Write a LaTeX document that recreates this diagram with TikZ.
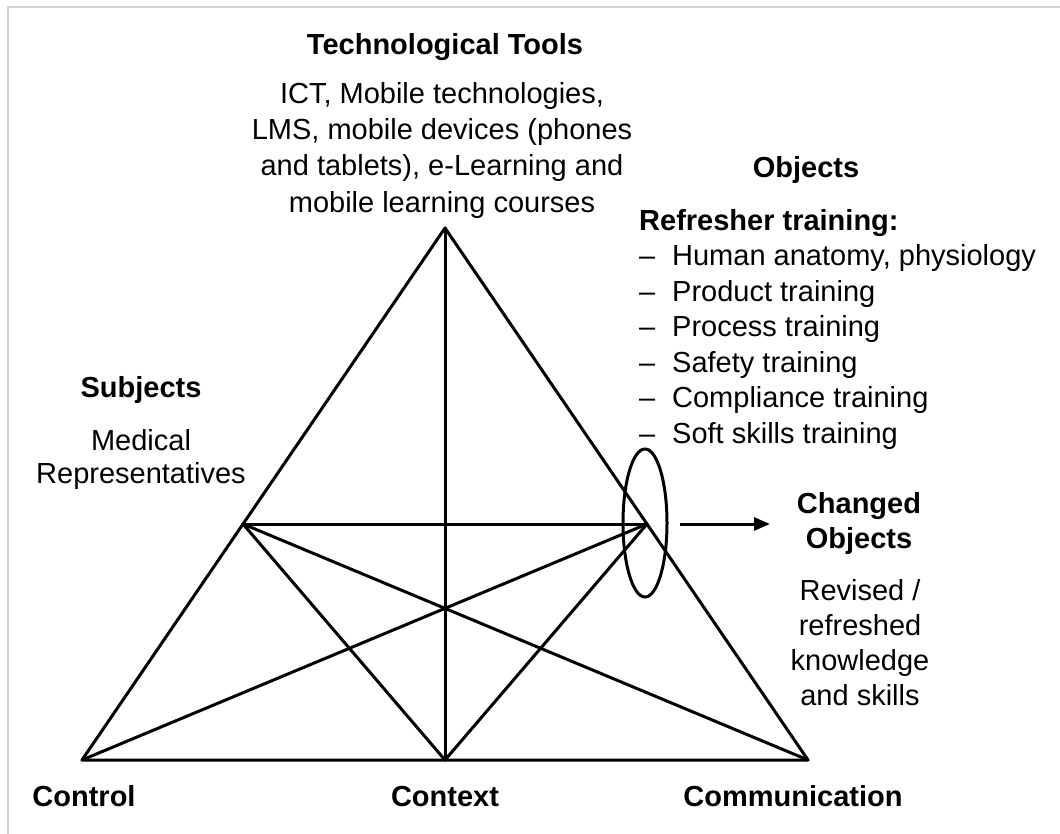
\documentclass[tikz,border=0pt]{standalone}
\usepackage{fontspec}
\setmainfont{Liberation Sans}
\usetikzlibrary{shapes.geometric,arrows.meta}
\begin{document}
\begin{tikzpicture}[x=1pt,y=-1pt,
  txt/.style={inner sep=0pt,font=\fontsize{29}{36}\selectfont},
  ttl/.style={txt,font=\fontsize{29}{35}\selectfont\bfseries},
  edge/.style={line width=3pt,line cap=round,line join=round},
  frame/.style={draw=black!18,line width=2pt}]
\useasboundingbox (0,0) rectangle (1060,834);
\fill[white] (0,0) rectangle (1060,834);
\draw[frame] (8,840) -- (8,7) -- (1066,7);
% vertices
\coordinate (A) at (445,228);
\coordinate (L) at (82,760);
\coordinate (R) at (808,760);
\coordinate (M) at (445,760);
\coordinate (P) at (243,524);
\coordinate (Q) at (647,524);
% lines
\draw[edge] (L) -- (A) -- (R) -- cycle;
\draw[edge] (A) -- (M);
\draw[edge] (P) -- (Q);
\draw[edge] (P) -- (M);
\draw[edge] (P) -- (R);
\draw[edge] (Q) -- (M);
\draw[edge] (Q) -- (L);
% ellipse and arrow
\node[draw,ellipse,line width=3pt,minimum width=44,minimum height=148,inner sep=0pt] (ell) at (645,523) {};
\coordinate (arrend) at (770,524);
\draw[line width=3pt,-{Triangle[length=16pt,width=13pt]}] ([xshift=11pt]ell.east |- Q) -- (arrend);
% texts
\node[ttl,anchor=base] (tt) at (445,55) {Technological Tools};
\node[txt,anchor=north,align=center,font=\fontsize{29}{36.3}\selectfont] (tools) at (442,82)
  {ICT, Mobile technologies,\\LMS, mobile devices (phones\\and tablets), e-Learning and\\mobile learning courses};
\node[ttl,anchor=base] (obj) at (806,178) {Objects};
\node[txt,anchor=north west,align=left,font=\fontsize{29}{35.5}\selectfont] (list) at (639,209)
  {\textbf{Refresher training:}\\
   \makebox[33pt][l]{–}Human anatomy, physiology\\
   \makebox[33pt][l]{–}Product training\\
   \makebox[33pt][l]{–}Process training\\
   \makebox[33pt][l]{–}Safety training\\
   \makebox[33pt][l]{–}Compliance training\\
   \makebox[33pt][l]{–}Soft skills training};
\node[ttl,anchor=base] (subj) at (141,397) {Subjects};
\node[txt,anchor=north,align=center,font=\fontsize{29}{33}\selectfont] (med) at (141,429)
  {Medical\\Representatives};
\node[ttl,anchor=north,align=center] (chg) at (859,492) {Changed\\Objects};
\node[txt,anchor=north,align=center,font=\fontsize{29}{35}\selectfont] (rev) at (860,579)
  {Revised /\\refreshed\\knowledge\\and skills};
\node[ttl,anchor=base] (ctrl) at (84,806) {Control};
\node[ttl,anchor=base] (ctx) at (445,806) {Context};
\node[ttl,anchor=base] (comm) at (793,806) {Communication};
\end{tikzpicture}
\end{document}
